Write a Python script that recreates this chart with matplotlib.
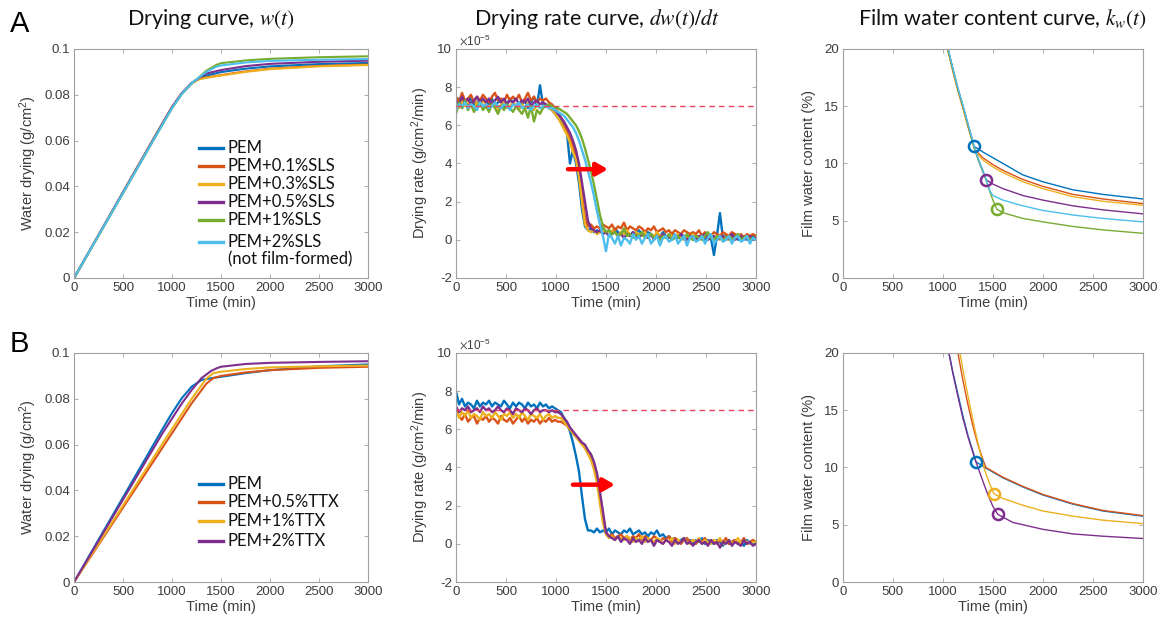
"""
Drying behaviour of PEM films with SLS (row A) and TTX (row B):
drying curve w(t), drying rate dw/dt and film water content k_w(t).
"""

import matplotlib

matplotlib.use("Agg")
import matplotlib.pyplot as plt
import numpy as np
from matplotlib.ticker import FuncFormatter

plt.rcParams.update(
    {
        "font.family": ["Liberation Sans", "DejaVu Sans"],
        "font.size": 9.5,
        "mathtext.fontset": "stix",
        "axes.linewidth": 0.8,
        "axes.edgecolor": "#a0a0a0",
        "xtick.color": "#a0a0a0",
        "ytick.color": "#a0a0a0",
        "xtick.labelcolor": "#3c3c3c",
        "ytick.labelcolor": "#3c3c3c",
        "axes.labelcolor": "#3c3c3c",
    }
)

COLORS = ["#0072BD", "#D95319", "#EDB120", "#7E2F8E", "#77AC30", "#4DBEEE"]

# ---------------- row A: SLS ----------------
SLS_LABELS = ["PEM", "PEM+0.1%SLS", "PEM+0.3%SLS", "PEM+0.5%SLS", "PEM+1%SLS", "PEM+2%SLS"]

# drying curve w(t), g/cm^2
W_T_A = [
    [0, 300, 600, 900, 1000, 1100, 1200, 1280, 1350, 1500, 1750, 2000, 2500, 3000],
    [0, 300, 600, 900, 1000, 1100, 1200, 1270, 1350, 1500, 1750, 2000, 2500, 3000],
    [0, 300, 600, 900, 1000, 1100, 1200, 1270, 1350, 1500, 1750, 2000, 2500, 3000],
    [0, 300, 600, 900, 1000, 1100, 1200, 1280, 1350, 1500, 1750, 2000, 2500, 3000],
    [0, 300, 600, 900, 1000, 1100, 1200, 1280, 1350, 1450, 1500, 1750, 2000, 2500, 3000],
    [0, 300, 600, 900, 1000, 1100, 1200, 1280, 1350, 1450, 1500, 1750, 2000, 2500, 3000],
]
W_A = [
    [0, 0.0224, 0.0449, 0.0673, 0.0746, 0.0806, 0.0851, 0.0872, 0.0884, 0.0899, 0.0914, 0.0924, 0.0934, 0.0939],
    [0, 0.0225, 0.0450, 0.0674, 0.0747, 0.0807, 0.0850, 0.0868, 0.0876, 0.0886, 0.0902, 0.0914, 0.0926, 0.0932],
    [0, 0.0224, 0.0448, 0.0672, 0.0745, 0.0805, 0.0849, 0.0867, 0.0874, 0.0884, 0.0900, 0.0912, 0.0924, 0.0930],
    [0, 0.0225, 0.0449, 0.0673, 0.0746, 0.0807, 0.0852, 0.0874, 0.0893, 0.0908, 0.0925, 0.0935, 0.0944, 0.0949],
    [0, 0.0222, 0.0445, 0.0668, 0.0741, 0.0803, 0.0850, 0.0878, 0.0905, 0.0930, 0.0938, 0.0950, 0.0957, 0.0964, 0.0968],
    [0, 0.0223, 0.0446, 0.0669, 0.0742, 0.0804, 0.0850, 0.0877, 0.0900, 0.0922, 0.0928, 0.0941, 0.0948, 0.0953, 0.0956],
]

# drying rate, sampled every 30 min, in 1e-6 g/cm^2/min
RATE_STEP = 30
RATE_A = [
    [70, 74, 69, 72, 71, 75, 70, 72, 73, 69, 72, 71, 74, 70, 72, 73, 69, 71, 74, 72,
     70, 72, 71, 73, 69, 72, 75, 70, 81, 71, 70, 69, 68, 66, 64, 62, 59, 56, 40, 47,
     40, 30, 16, 7, 5, 6, 4, 5, 4, 6, 4, 5, 3, 6, 4, 3, 5, 4, 2, 4,
     3, 5, 3, 2, 4, 3, 1, 3, 2, 4, 2, 1, 3, 2, 1, 3, 2, 1, 2, 0,
     2, 1, 3, 0, 2, 1, -8, 2, 14, 1, 2, 0, 1, 3, 0, 1, 2, 0, 1, 2, 1],
    [75, 72, 77, 73, 74, 76, 72, 75, 73, 76, 74, 72, 75, 77, 73, 74, 72, 76, 73, 75,
     73, 76, 72, 74, 77, 73, 75, 72, 74, 73, 74, 72, 71, 69, 67, 64, 61, 57, 53, 49,
     44, 36, 24, 12, 7, 8, 6, 7, 6, 8, 7, 6, 8, 5, 7, 6, 9, 5, 7, 6,
     5, 7, 6, 4, 6, 5, 7, 4, 5, 6, 4, 5, 3, 5, 4, 3, 5, 4, 3, 4,
     3, 5, 2, 4, 3, 2, 4, 3, 2, 4, 3, 2, 4, 3, 2, 3, 1, 3, 2, 3, 2],
    [72, 69, 73, 70, 72, 71, 68, 72, 70, 73, 71, 69, 72, 70, 68, 71, 73, 69, 70, 72,
     70, 68, 71, 69, 72, 70, 68, 71, 69, 70, 71, 69, 68, 66, 64, 61, 58, 55, 51, 46,
     42, 33, 20, 8, 5, 4, 5, 3, 4, 5, 4, 3, 5, 4, 2, 4, 3, 5, 3, 2,
     4, 3, 2, 4, 1, 3, 2, 4, 2, 3, 1, 3, 2, 1, 3, 2, 0, 2, 1, 3,
     1, 2, 0, 2, 1, 3, 1, 2, 0, 2, 1, 0, 2, 1, 3, 1, 0, 2, 1, 0, 1],
    [73, 71, 75, 72, 74, 71, 73, 75, 72, 74, 72, 74, 71, 73, 75, 72, 74, 71, 73, 72,
     74, 71, 73, 72, 74, 70, 72, 73, 71, 72, 71, 70, 69, 68, 66, 64, 62, 59, 56, 52,
     47, 40, 30, 20, 10, 6, 5, 4, 5, 3, 4, 2, 3, 4, 2, 3, 1, 3, 2, 4,
     2, 1, 3, 2, 1, 3, 0, 2, 1, 3, 1, 2, 0, 2, 1, 3, 1, 0, 2, 1,
     0, 2, 1, 3, 0, 1, 2, 0, 1, 2, 0, 1, 3, 0, 1, 2, 0, 1, 2, 0, 1],
    [66, 72, 69, 73, 68, 71, 67, 70, 72, 68, 70, 67, 71, 69, 66, 70, 68, 71, 69, 67,
     70, 68, 66, 69, 64, 70, 62, 68, 66, 69, 70, 71, 70, 69, 69, 68, 67, 66, 64, 62,
     60, 57, 53, 48, 42, 36, 29, 21, 13, 7, 4, 5, 3, 4, 2, 3, 6, 2, 3, 1,
     3, 2, 4, 1, 2, 3, 1, 2, 0, 2, 1, 3, 0, 1, 2, 0, 1, 3, 1, 0,
     2, 1, 0, 2, 4, 1, 0, 2, 1, 0, 1, 2, 0, 1, 3, 0, 1, 2, 0, 1, 0],
    [68, 71, 70, 72, 69, 71, 70, 68, 72, 70, 71, 69, 70, 72, 70, 69, 71, 70, 68, 71,
     70, 72, 69, 70, 71, 68, 70, 71, 69, 70, 70, 69, 69, 68, 67, 66, 65, 63, 61, 59,
     56, 52, 47, 42, 36, 30, 23, 15, 8, 2, -6, 3, 1, -2, 2, -3, 1, 0, -2, 3,
     0, 2, -2, 1, 3, -2, 0, 2, -3, 1, 2, -1, 0, 3, -2, 0, 2, -3, 1, 2,
     -1, 0, 2, -2, 1, 3, -2, 0, 2, -1, 0, 2, -2, 1, 2, -1, 0, 2, -2, 1, 0],
]

# film water content k_w(t), %
K_T_A = [
    [1000, 1050, 1100, 1150, 1200, 1250, 1310, 1400, 1500, 1600, 1800, 2000, 2300, 2600, 3000],
    [1000, 1050, 1100, 1150, 1200, 1250, 1320, 1400, 1500, 1600, 1800, 2000, 2300, 2600, 3000],
    [1000, 1050, 1100, 1150, 1200, 1250, 1320, 1400, 1500, 1600, 1800, 2000, 2300, 2600, 3000],
    [1000, 1050, 1100, 1150, 1200, 1250, 1310, 1350, 1400, 1430, 1500, 1600, 1800, 2000, 2300, 2600, 3000],
    [1000, 1050, 1100, 1150, 1200, 1250, 1310, 1350, 1400, 1430, 1470, 1500, 1540, 1600, 1800, 2000, 2300, 2600, 3000],
    [1000, 1050, 1100, 1150, 1200, 1250, 1310, 1350, 1400, 1430, 1470, 1500, 1600, 1800, 2000, 2300, 2600, 3000],
]
K_A = [
    [22.6, 20.0, 18.2, 16.5, 15.0, 13.4, 11.5, 11.0, 10.5, 10.0, 9.0, 8.4, 7.7, 7.3, 6.9],
    [22.4, 19.9, 18.1, 16.4, 14.9, 13.3, 11.2, 10.5, 9.9, 9.4, 8.6, 8.0, 7.3, 6.9, 6.5],
    [22.3, 19.8, 18.0, 16.3, 14.8, 13.2, 11.1, 10.3, 9.7, 9.2, 8.4, 7.8, 7.1, 6.7, 6.35],
    [22.6, 20.0, 18.2, 16.5, 15.0, 13.4, 11.5, 10.4, 9.3, 8.6, 8.2, 7.8, 7.2, 6.8, 6.3, 5.95, 5.6],
    [22.6, 20.0, 18.2, 16.5, 15.0, 13.4, 11.5, 10.4, 9.3, 8.6, 7.5, 6.8, 6.0, 5.7, 5.2, 4.9, 4.5, 4.2, 3.9],
    [22.7, 20.1, 18.3, 16.6, 15.1, 13.5, 11.6, 10.5, 9.4, 8.7, 7.6, 7.2, 6.8, 6.3, 5.9, 5.5, 5.2, 4.9],
]
MARK_T_A = [1310, 1430, 1540]
MARK_K_A = [11.5, 8.6, 6.0]
MARK_C_A = [COLORS[0], COLORS[3], COLORS[4]]

ARROW_A = (1120, 1520, 3.7e-5)

# ---------------- row B: TTX ----------------
TTX_LABELS = ["PEM", "PEM+0.5%TTX", "PEM+1%TTX", "PEM+2%TTX"]
TTX_COLORS = COLORS[:4]

W_T_B = [
    [0, 300, 600, 900, 1000, 1100, 1200, 1300, 1400, 1500, 1750, 2000, 2500, 3000],
    [0, 300, 600, 900, 1200, 1350, 1420, 1500, 1750, 2000, 2500, 3000],
    [0, 300, 600, 900, 1200, 1350, 1420, 1500, 1750, 2000, 2500, 3000],
    [0, 300, 600, 900, 1100, 1200, 1300, 1400, 1460, 1500, 1750, 2000, 2500, 3000],
]
W_B = [
    [0, 0.0222, 0.0444, 0.0666, 0.0738, 0.0803, 0.0853, 0.0882, 0.0890, 0.0896, 0.0912, 0.0925, 0.0942, 0.0950],
    [0, 0.0195, 0.0390, 0.0585, 0.0780, 0.0866, 0.0890, 0.0900, 0.0915, 0.0925, 0.0935, 0.0940],
    [0, 0.0201, 0.0402, 0.0603, 0.0800, 0.0888, 0.0912, 0.0918, 0.0930, 0.0937, 0.0942, 0.0945],
    [0, 0.0216, 0.0432, 0.0648, 0.0780, 0.0838, 0.0890, 0.0922, 0.0934, 0.0940, 0.0952, 0.0957, 0.0961, 0.0964],
]

RATE_B = [
    [80, 73, 76, 72, 74, 73, 71, 75, 72, 74, 73, 75, 72, 74, 73, 72, 75, 73, 71, 74,
     72, 74, 73, 71, 74, 72, 73, 71, 74, 72, 73, 71, 72, 71, 70, 69, 66, 63, 59, 53,
     46, 38, 25, 13, 7, 7, 6, 8, 6, 7, 6, 8, 5, 7, 6, 5, 7, 6, 8, 5,
     6, 7, 5, 6, 4, 6, 5, 7, 4, 5, 3, 4, 2, 3, 1, 2, 3, 1, 2, 0,
     2, 1, 3, 0, 2, 1, 0, 2, 1, -1, 2, 0, 1, 2, 0, 1, -1, 2, 0, 1, 0],
    [69, 67, 65, 68, 64, 66, 67, 63, 66, 65, 67, 64, 66, 65, 63, 67, 65, 64, 66, 63,
     65, 67, 64, 66, 63, 65, 64, 66, 63, 65, 64, 66, 64, 65, 64, 64, 63, 62, 60, 58,
     56, 55, 53, 51, 49, 46, 42, 36, 26, 15, 6, 4, 5, 3, 4, 5, 3, 4, 2, 4,
     3, 5, 2, 4, 3, 2, 4, 3, 1, 3, 2, 4, 1, 3, 2, 0, 2, 3, 1, 2,
     0, 2, 1, 3, 0, 2, 1, 0, 2, 1, 3, 0, 1, 2, 0, 1, 3, 0, 1, 2, 1],
    [71, 66, 69, 67, 70, 66, 68, 67, 65, 69, 67, 68, 66, 69, 67, 65, 68, 67, 69, 66,
     68, 66, 69, 67, 65, 68, 67, 66, 68, 65, 67, 68, 66, 67, 66, 66, 64, 62, 60, 58,
     56, 54, 52, 50, 47, 44, 39, 32, 21, 11, 5, 3, 4, 2, 4, 3, 2, 4, 3, 1,
     3, 2, 4, 1, 3, 2, 1, 3, 2, 0, 2, 1, 3, 0, 2, 1, 3, 1, 0, 2,
     1, 3, 0, 2, 1, 0, 2, 1, 3, 0, 1, 2, 0, 1, 3, 0, 2, 1, 0, 1, 1],
    [72, 69, 71, 70, 72, 69, 70, 71, 69, 72, 70, 71, 69, 70, 72, 70, 69, 71, 70, 68,
     71, 70, 69, 71, 70, 68, 70, 71, 69, 70, 70, 69, 70, 69, 69, 68, 66, 64, 61, 59,
     57, 55, 53, 52, 49, 47, 43, 37, 27, 17, 6, 4, 3, 2, 4, 1, 3, 2, 0, 3,
     1, 2, 0, 3, 1, 2, -1, 2, 1, 0, 2, 1, -1, 2, 0, 1, 3, 0, 1, -1,
     1, 2, 0, 1, -1, 2, 0, 1, -2, 1, 0, 2, -1, 1, 0, -1, 2, 0, 1, -1, 0],
]

K_T_B = [
    [1000, 1060, 1100, 1150, 1200, 1250, 1300, 1330, 1430, 1600, 1800, 2000, 2300, 2600, 3000],
    [1100, 1150, 1200, 1250, 1300, 1350, 1400, 1430, 1600, 1800, 2000, 2300, 2600, 3000],
    [1120, 1170, 1220, 1270, 1320, 1370, 1420, 1470, 1510, 1600, 1800, 2000, 2300, 2600, 3000],
    [1000, 1060, 1100, 1150, 1200, 1250, 1300, 1330, 1400, 1450, 1500, 1550, 1700, 2000, 2300, 2600, 3000],
]
K_B = [
    [23.0, 20.0, 18.3, 16.4, 14.5, 12.8, 11.4, 10.5, 9.95, 9.1, 8.3, 7.6, 6.8, 6.2, 5.75],
    [23.0, 20.0, 17.6, 15.5, 13.6, 12.0, 10.7, 10.0, 9.15, 8.35, 7.65, 6.85, 6.25, 5.8],
    [23.0, 20.0, 17.6, 15.4, 13.3, 11.4, 9.7, 8.5, 7.7, 7.3, 6.7, 6.2, 5.75, 5.4, 5.1],
    [23.0, 20.0, 18.2, 16.2, 14.3, 12.7, 11.3, 10.5, 8.8, 7.6, 6.6, 5.9, 5.2, 4.6, 4.2, 4.0, 3.8],
]
MARK_T_B = [1330, 1510, 1550]
MARK_K_B = [10.5, 7.7, 5.9]
MARK_C_B = [COLORS[0], COLORS[2], COLORS[3]]

ARROW_B = (1170, 1590, 3.1e-5)

RATE_REF = 7.0e-5
RATE_UNIT = 1e-6

# axes placement in figure fractions (left, bottom, width, height)
COL_X = [(0.0634, 0.2517), (0.3904, 0.2568), (0.7217, 0.2568)]
ROW_Y = [(0.5538, 0.3676), (0.0658, 0.3676)]

TITLE_FONT = ["Lato", "DejaVu Sans"]


def style_axes(ax):
    ax.tick_params(direction="in", length=3, width=0.6, top=True, right=True, labelsize=9.5, pad=3)
    ax.set_xlim(0, 3000)
    ax.set_xticks(np.arange(0, 3001, 500))
    ax.set_xlabel("Time (min)", fontsize=10.5, labelpad=1)


def draw_drying(ax, ts, ws, colors, labels, rows, extra=None):
    for t, w, c in zip(ts, ws, colors):
        ax.plot(t, w, color=c, lw=1.5)
    ax.set_ylim(0, 0.1)
    ax.set_yticks([0, 0.02, 0.04, 0.06, 0.08, 0.1])
    ax.yaxis.set_major_formatter(FuncFormatter(lambda v, p: f"{v:g}"))
    ax.set_ylabel(r"Water drying (g/cm$\mathregular{^2}$)", fontsize=10.5, labelpad=4)
    style_axes(ax)
    for c, lab, y in zip(colors, labels, rows):
        ax.plot([0.425, 0.507], [y, y], transform=ax.transAxes, color=c, lw=2.4)
        ax.text(0.522, y, lab, transform=ax.transAxes, va="center", ha="left",
                fontsize=12, family=TITLE_FONT, color="#111111")
    if extra:
        ax.text(0.522, extra[1], extra[0], transform=ax.transAxes, va="center", ha="left",
                fontsize=12, family=TITLE_FONT, color="#111111")


def draw_rate(ax, series, colors, arrow):
    for vals, c in zip(series, colors):
        v = np.asarray(vals, dtype=float) * RATE_UNIT
        t = RATE_STEP * np.arange(len(v))
        ax.plot(t, v, color=c, lw=1.7)
    ax.axhline(RATE_REF, color="#e8435a", lw=1.0, ls=(0, (4, 3)), zorder=5)
    ax.annotate("", xy=(arrow[1], arrow[2]), xytext=(arrow[0], arrow[2]),
                arrowprops=dict(arrowstyle="-|>,head_length=0.7,head_width=0.4",
                                color="#ff0000", lw=3.2, shrinkA=0, shrinkB=0), zorder=6)
    ax.set_ylim(-2e-5, 10e-5)
    ax.set_yticks(np.arange(-2e-5, 10.1e-5, 2e-5))
    ax.yaxis.set_major_formatter(FuncFormatter(lambda v, p: f"{round(v / 1e-5):d}"))
    ax.set_ylabel(r"Drying rate (g/cm$\mathregular{^2}$/min)", fontsize=10.5, labelpad=4)
    ax.text(0.01, 1.005, r"$\times\mathregular{10^{-5}}$", transform=ax.transAxes,
            ha="left", va="bottom", fontsize=8.5, color="#3c3c3c")
    style_axes(ax)


def draw_content(ax, ts, ks, colors, mt, mk, mc):
    for t, k, c in zip(ts, ks, colors):
        ax.plot(t, k, color=c, lw=1.0)
    for t, k, c in zip(mt, mk, mc):
        ax.plot([t], [k], "o", ms=8, mfc="none", mec=c, mew=1.8, zorder=5)
    ax.set_ylim(0, 20)
    ax.set_yticks([0, 5, 10, 15, 20])
    ax.set_ylabel("Film water content (%)", fontsize=10.5, labelpad=6)
    style_axes(ax)


def main():
    fig = plt.figure(figsize=(11.68, 6.23), dpi=100)
    axes = [[fig.add_axes([cx[0], ry[0], cx[1], ry[1]]) for cx in COL_X] for ry in ROW_Y]

    draw_drying(axes[0][0], W_T_A, W_A, COLORS, SLS_LABELS,
                [0.568, 0.489, 0.41, 0.332, 0.255, 0.157], extra=("(not film-formed)", 0.083))
    draw_rate(axes[0][1], RATE_A, COLORS, ARROW_A)
    draw_content(axes[0][2], K_T_A, K_A, COLORS, MARK_T_A, MARK_K_A, MARK_C_A)

    draw_drying(axes[1][0], W_T_B, W_B, TTX_COLORS, TTX_LABELS, [0.428, 0.349, 0.266, 0.179])
    draw_rate(axes[1][1], RATE_B, TTX_COLORS, ARROW_B)
    draw_content(axes[1][2], K_T_B, K_B, TTX_COLORS, MARK_T_B, MARK_K_B, MARK_C_B)

    titles = [
        (axes[0][0], 0.466, r"Drying curve, $w(t)$"),
        (axes[0][1], 0.47, r"Drying rate curve, $dw(t)/dt$"),
        (axes[0][2], 0.533, r"Film water content curve, $k_w(t)$"),
    ]
    for ax, x, s in titles:
        ax.text(x, 1.131, s, transform=ax.transAxes, ha="center", va="center",
                fontsize=15.5, family=TITLE_FONT, color="#111111")

    fig.text(0.0085, 0.962, "A", fontsize=21, ha="left", va="center", color="#000000")
    fig.text(0.0085, 0.448, "B", fontsize=21, ha="left", va="center", color="#000000")

    fig.savefig("out.png", dpi=100)
    plt.close(fig)


if __name__ == "__main__":
    main()
